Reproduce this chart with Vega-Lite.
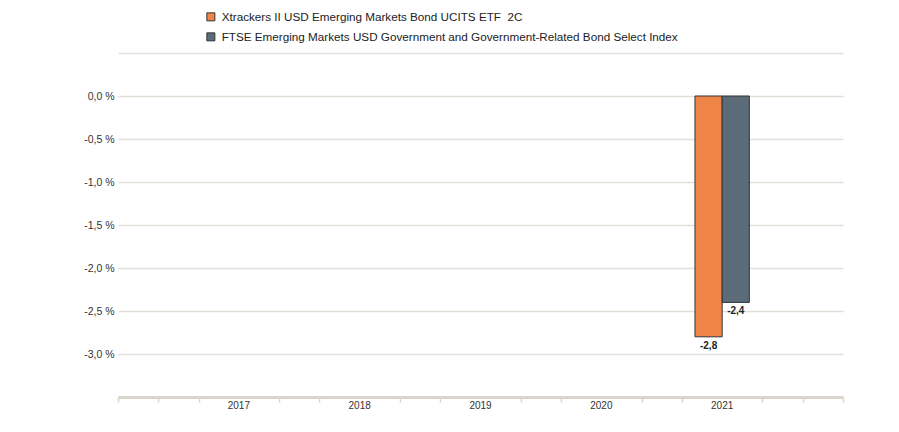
{
  "$schema": "https://vega.github.io/schema/vega-lite/v6.json",
  "width": 725,
  "height": 344,
  "autosize": {"type": "none"},
  "padding": {"left": 118, "top": 53, "right": 56, "bottom": 35},
  "background": "white",
  "config": {
    "font": "Liberation Sans",
    "view": {"stroke": null}
  },
  "data": {
    "values": [
      {"year": "2021", "series": "Xtrackers II USD Emerging Markets Bond UCITS ETF  2C", "value": -2.8},
      {"year": "2021", "series": "FTSE Emerging Markets USD Government and Government-Related Bond Select Index", "value": -2.4}
    ]
  },
  "resolve": {"scale": {"x": "independent"}, "axis": {"x": "independent"}},
  "encoding": {
    "y": {
      "field": "value",
      "type": "quantitative",
      "scale": {"domain": [-3.5, 0.5], "nice": false, "zero": false},
      "axis": {
        "title": null,
        "values": [-3.5, -3, -2.5, -2, -1.5, -1, -0.5, 0, 0.5],
        "labelExpr": "datum.value > 0.01 || datum.value < -3.01 ? '' : (datum.value < 0 ? '-' : '') + replace(format(abs(datum.value), '.1f'), '.', ',') + ' %'",
        "labelFontSize": 10.5,
        "labelColor": "#333333",
        "labelPadding": 4,
        "ticks": false,
        "domain": false,
        "grid": true,
        "gridColor": "#e2dfd8",
        "gridWidth": 1.5
      }
    }
  },
  "layer": [
    {
      "mark": {"type": "bar", "stroke": "#333333", "strokeWidth": 1},
      "encoding": {
        "x": {
          "field": "year",
          "type": "nominal",
          "scale": {"domain": ["2017", "2018", "2019", "2020", "2021"], "paddingInner": 0.55, "paddingOuter": 0.775},
          "axis": {
            "title": null,
            "orient": "bottom",
            "labelAngle": 0,
            "labelFontSize": 10,
            "labelColor": "#333333",
            "labelPadding": 3,
            "domain": false,
            "ticks": false,
            "grid": false
          }
        },
        "xOffset": {
          "field": "series",
          "type": "nominal",
          "scale": {"domain": ["Xtrackers II USD Emerging Markets Bond UCITS ETF  2C", "FTSE Emerging Markets USD Government and Government-Related Bond Select Index"], "paddingInner": 0, "paddingOuter": 0}
        },
        "y2": {"datum": 0},
        "color": {
          "field": "series",
          "type": "nominal",
          "scale": {
            "domain": ["Xtrackers II USD Emerging Markets Bond UCITS ETF  2C", "FTSE Emerging Markets USD Government and Government-Related Bond Select Index"],
            "range": ["#f0854a", "#5b6b77"]
          },
          "legend": {
            "title": null,
            "orient": "none",
            "legendX": 87,
            "legendY": -42,
            "symbolType": "square",
            "symbolSize": 64,
            "symbolStrokeColor": "#333333",
            "symbolStrokeWidth": 1,
            "symbolOpacity": 1,
            "labelFontSize": 11.7,
            "labelColor": "#222222",
            "labelOffset": 5,
            "labelLimit": 700,
            "rowPadding": 6,
            "labelExpr": "replace(datum.label, '  ', ' \u00a0')"
          }
        }
      }
    },
    {
      "mark": {"type": "point", "opacity": 0},
      "encoding": {
        "x": {
          "datum": 0,
          "type": "quantitative",
          "scale": {"domain": [0, 18], "nice": false, "zero": false},
          "axis": {
            "title": null,
            "orient": "bottom",
            "values": [0, 1, 2, 4, 5, 7, 8, 10, 11, 13, 14, 16, 17, 18],
            "labels": false,
            "domainColor": "#d9d5cb",
            "domainWidth": 3,
            "tickColor": "#d9d5cb",
            "tickSize": 5,
            "tickWidth": 1.5,
            "grid": false
          }
        }
      }
    },
    {
      "transform": [
        {"calculate": "(datum.value < 0 ? '-' : '') + replace(format(abs(datum.value), '.1f'), '.', ',')", "as": "label"}
      ],
      "mark": {"type": "text", "baseline": "top", "dy": 4, "fontSize": 10, "fontWeight": "bold", "color": "#222222"},
      "encoding": {
        "x": {
          "field": "year",
          "type": "nominal",
          "scale": {"domain": ["2017", "2018", "2019", "2020", "2021"], "paddingInner": 0.55, "paddingOuter": 0.775},
          "axis": null
        },
        "xOffset": {
          "field": "series",
          "type": "nominal",
          "scale": {"domain": ["Xtrackers II USD Emerging Markets Bond UCITS ETF  2C", "FTSE Emerging Markets USD Government and Government-Related Bond Select Index"], "paddingInner": 0, "paddingOuter": 0}
        },
        "text": {"field": "label", "type": "nominal"}
      }
    }
  ]
}
